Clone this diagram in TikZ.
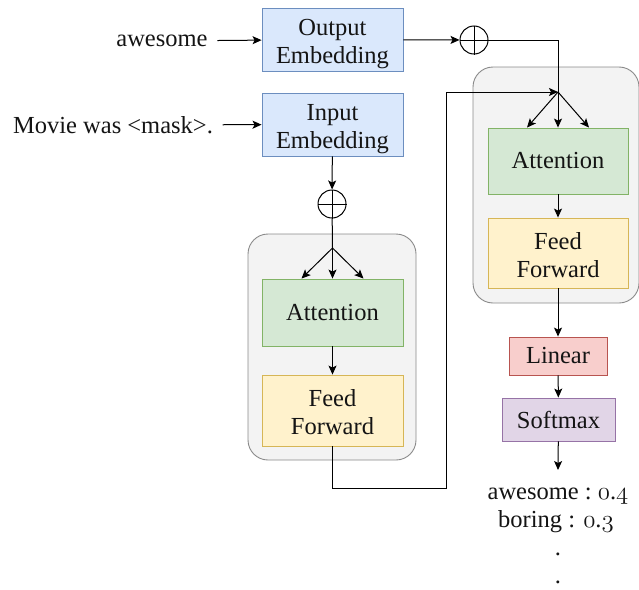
\documentclass[tikz,border=0pt]{standalone}
\usepackage{fontspec}
\setmainfont{Liberation Serif}
\usepackage{tikz}
\usetikzlibrary{arrows.meta}

\definecolor{embFill}{HTML}{DAE8FC}
\definecolor{embLine}{HTML}{6C8EBF}
\definecolor{attFill}{HTML}{D5E8D4}
\definecolor{attLine}{HTML}{82B366}
\definecolor{ffFill}{HTML}{FFF2CC}
\definecolor{ffLine}{HTML}{D6B656}
\definecolor{linFill}{HTML}{F8CECC}
\definecolor{linLine}{HTML}{B85450}
\definecolor{smFill}{HTML}{E1D5E7}
\definecolor{smLine}{HTML}{9673A6}
\definecolor{blkFill}{HTML}{F3F3F3}
\definecolor{blkLine}{HTML}{8A8A8A}
\definecolor{txt}{HTML}{141414}
\newcommand{\osnum}[1]{{\usefont{OML}{cmm}{m}{it}#1}}
\newcommand{\twolines}[2]{\begin{tabular}{@{}c@{}}#1\\#2\end{tabular}}

\begin{document}
\begin{tikzpicture}
   [x=1pt,y=-1pt,line width=1pt,>={Stealth[length=9pt,width=8pt,inset=2pt]},
    every node/.style={font=\fontsize{24.5}{28}\selectfont,text=txt},
    box/.style={draw,inner sep=0pt,line width=0.9pt},
    twoline/.style={text height=34pt,text depth=12pt},
    emb/.style={box,twoline,fill=embFill,draw=embLine,minimum width=141pt,minimum height=63pt},
    att/.style={box,fill=attFill,draw=attLine,minimum width=141pt,minimum height=67pt},
    ff/.style={box,twoline,fill=ffFill,draw=ffLine,minimum width=141pt,minimum height=71pt},
    block/.style={draw=blkLine,fill=blkFill,rounded corners=20pt,line width=0.9pt},
    plus/.style={draw,circle,minimum size=28pt,inner sep=0pt}]
   \useasboundingbox (0,0) rectangle (639,589);

   % inputs
   \node (wAwesome) at (162,41) {awesome};
   \node (wMovie) at (113,125) {Movie was <mask>.};
   \node [emb] (outEmb) at (332.5,39.5) {\twolines{Output}{Embedding}};
   \node [emb] (inEmb) at (332.5,124.5) {\twolines{Input}{Embedding}};
   \draw [->,shorten <=6pt] (wAwesome) -- (outEmb);
   \draw [->,shorten <=6pt] (wMovie) -- (inEmb);

   % encoder
   \node [block,minimum width=168pt,minimum height=226pt] (encBlock) at (332,347) {};
   \node [plus] (plusIn) at (332,204) {};
   \draw (plusIn.north) -- (plusIn.south);
   \draw (plusIn.west) -- (plusIn.east);
   \node [att] (encAtt) at (332.5,312.5) {Attention};
   \node [ff] (encFF) at (332.5,410.5) {\twolines{Feed}{Forward}};
   \coordinate (encSplit) at (332.5,248);
   \draw [->] (inEmb) -- (plusIn);
   \draw (plusIn) -- (encSplit);
   \draw [->] (encSplit) -- ([xshift=-31pt]encAtt.north);
   \draw [->] (encSplit) -- (encAtt.north);
   \draw [->] (encSplit) -- ([xshift=31pt]encAtt.north);
   \draw [->] (encAtt) -- (encFF);

   % decoder
   \node [block,minimum width=166pt,minimum height=236pt] (decBlock) at (556,185) {};
   \node [plus] (plusOut) at (474,40) {};
   \draw (plusOut.north) -- (plusOut.south);
   \draw (plusOut.west) -- (plusOut.east);
   \node [att,minimum width=140pt,minimum height=66pt] (decAtt) at (558,161) {Attention};
   \node [ff,minimum width=140pt,minimum height=70pt] (decFF) at (558,253) {\twolines{Feed}{Forward}};
   \coordinate (decSplit) at (558,92);
   \coordinate (bendA) at (446,488);
   \draw [->] (outEmb) -- (plusOut);
   \draw (plusOut) -| (decSplit);
   \draw [->] (encFF.south) |- (bendA) |- (decSplit);
   \draw [->] (decSplit) -- ([xshift=-31pt]decAtt.north);
   \draw [->] (decSplit) -- (decAtt.north);
   \draw [->] (decSplit) -- ([xshift=31pt]decAtt.north);
   \draw [->] (decAtt) -- (decFF);

   % head
   \node [box,fill=linFill,draw=linLine,minimum width=98pt,minimum height=38pt] (linear) at (558,356) {Linear};
   \node [box,fill=smFill,draw=smLine,minimum width=113pt,minimum height=43pt] (softmax) at (558.5,419.5) {Softmax};
   \coordinate (smOut) at (558,470);
   \draw [->] (decFF) -- (linear);
   \draw [->] (linear) -- (softmax);
   \draw [->] (softmax) -- (smOut);
   \node [anchor=base] (probA) at (558,499) {awesome :\ \osnum{0}.\osnum{4}};
   \node [anchor=base] (probB) at (556,527) {boring : \osnum{0}.\osnum{3}};
   \node [anchor=base] (dotA) at (558,555) {.};
   \node [anchor=base] (dotB) at (558,583) {.};
\end{tikzpicture}
\end{document}
